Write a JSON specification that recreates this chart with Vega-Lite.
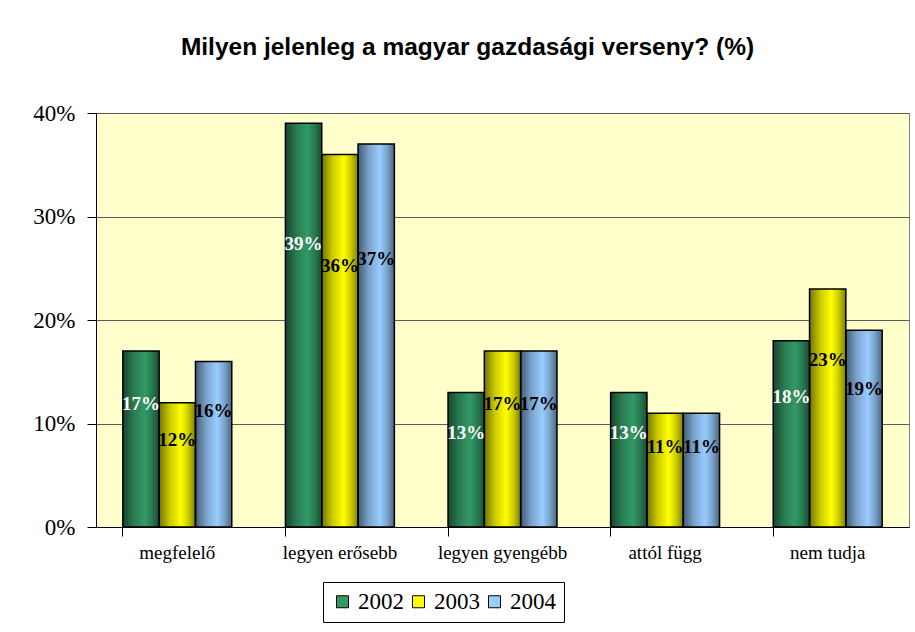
{
  "$schema": "https://vega.github.io/schema/vega-lite/v6.json",
  "autosize": "none",
  "width": 813,
  "height": 414,
  "padding": {"left": 96, "top": 113, "right": 6, "bottom": 105},
  "background": "white",
  "title": {
    "text": "Milyen jelenleg a magyar gazdasági verseny? (%)",
    "font": "Liberation Sans",
    "fontSize": 24.5,
    "fontWeight": "bold",
    "color": "black",
    "anchor": "middle",
    "frame": "group",
    "dx": -35,
    "offset": 42
  },
  "data": {
    "values": [
      {"category": "megfelelő", "year": "2002", "value": 0.17},
      {"category": "megfelelő", "year": "2003", "value": 0.12},
      {"category": "megfelelő", "year": "2004", "value": 0.16},
      {"category": "legyen erősebb", "year": "2002", "value": 0.39},
      {"category": "legyen erősebb", "year": "2003", "value": 0.36},
      {"category": "legyen erősebb", "year": "2004", "value": 0.37},
      {"category": "legyen gyengébb", "year": "2002", "value": 0.13},
      {"category": "legyen gyengébb", "year": "2003", "value": 0.17},
      {"category": "legyen gyengébb", "year": "2004", "value": 0.17},
      {"category": "attól függ", "year": "2002", "value": 0.13},
      {"category": "attól függ", "year": "2003", "value": 0.11},
      {"category": "attól függ", "year": "2004", "value": 0.11},
      {"category": "nem tudja", "year": "2002", "value": 0.18},
      {"category": "nem tudja", "year": "2003", "value": 0.23},
      {"category": "nem tudja", "year": "2004", "value": 0.19}
    ]
  },
  "encoding": {
    "x": {
      "field": "category",
      "type": "nominal",
      "scale": {
        "domain": ["megfelelő", "legyen erősebb", "legyen gyengébb", "attól függ", "nem tudja"],
        "paddingInner": 0.33,
        "paddingOuter": 0.165
      }
    },
    "xOffset": {
      "field": "year",
      "type": "nominal",
      "scale": {"domain": ["2002", "2003", "2004"], "paddingInner": 0, "paddingOuter": 0}
    }
  },
  "layer": [
    {
      "mark": {"type": "bar", "strokeWidth": 0},
      "encoding": {
        "x": {
          "field": "category",
          "type": "nominal",
          "axis": {
            "orient": "bottom",
            "title": null,
            "labelAngle": 0,
            "labelFont": "Liberation Serif",
            "labelFontSize": 19,
            "labelColor": "black",
            "ticks": false,
            "tickSize": 0,
            "labelPadding": 16,
            "domainColor": "black",
            "domainWidth": 1
          }
        },
        "y": {
          "field": "value",
          "type": "quantitative",
          "scale": {"domain": [0, 0.4], "nice": false},
          "axis": {
            "title": null,
            "values": [0, 0.1, 0.2, 0.3, 0.4],
            "format": ".0%",
            "labelFont": "Liberation Serif",
            "labelFontSize": 23,
            "labelColor": "black",
            "tickSize": 9,
            "tickColor": "black",
            "labelPadding": 12,
            "domainColor": "black",
            "grid": true,
            "gridColor": "#5a5a5a",
            "gridWidth": 1
          }
        },
        "color": {
          "field": "year",
          "type": "nominal",
          "scale": {"domain": ["2002", "2003", "2004"], "range": ["#339966", "#FFFF00", "#99CCFF"]},
          "legend": {
            "title": null,
            "orient": "none",
            "legendX": 227,
            "legendY": 469,
            "direction": "horizontal",
            "symbolType": "square",
            "symbolSize": 144,
            "symbolStrokeColor": "black",
            "symbolStrokeWidth": 1,
            "labelFont": "Liberation Serif",
            "labelFontSize": 23,
            "labelColor": "black",
            "labelOffset": 4,
            "columnPadding": 3,
            "padding": 8,
            "strokeColor": "black",
            "fillColor": "white"
          }
        }
      }
    },
    {
      "mark": {
        "type": "bar",
        "stroke": "black",
        "strokeWidth": 1.5,
        "fill": {
          "gradient": "linear",
          "x1": 0, "y1": 0, "x2": 1, "y2": 0,
          "stops": [
            {"offset": 0, "color": "rgba(0,0,0,0.55)"},
            {"offset": 0.3, "color": "rgba(0,0,0,0.2)"},
            {"offset": 0.6, "color": "rgba(0,0,0,0)"},
            {"offset": 0.8, "color": "rgba(0,0,0,0.2)"},
            {"offset": 1, "color": "rgba(0,0,0,0.5)"}
          ]
        }
      },
      "encoding": {
        "x": {
          "field": "category",
          "type": "nominal",
          "axis": {
            "orient": "bottom",
            "title": null,
            "bandPosition": 0,
            "labels": false,
            "domain": false,
            "ticks": true,
            "tickSize": 9,
            "tickColor": "black"
          }
        },
        "y": {
          "field": "value",
          "type": "quantitative",
          "scale": {"domain": [0, 0.4], "nice": false},
          "axis": null
        }
      }
    },
    {
      "mark": {
        "type": "text",
        "font": "Liberation Serif",
        "fontSize": 19,
        "fontWeight": "bold",
        "baseline": "middle",
        "align": "center"
      },
      "encoding": {
        "x": {"field": "category", "type": "nominal", "axis": null},
        "y": {
          "field": "value",
          "type": "quantitative",
          "scale": {"domain": [0, 0.5714], "nice": false},
          "axis": null
        },
        "text": {"field": "value", "type": "quantitative", "format": ".0%"},
        "color": {
          "condition": {"test": "datum.year == '2002'", "value": "white"},
          "value": "black"
        }
      }
    }
  ],
  "resolve": {"scale": {"y": "independent"}, "axis": {"x": "independent"}},
  "config": {
    "view": {"fill": "#FFFFCC", "stroke": "#808080", "strokeWidth": 1}
  }
}
